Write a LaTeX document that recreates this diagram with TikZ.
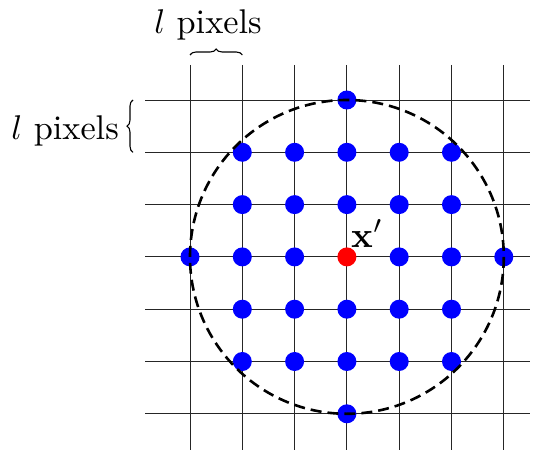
\documentclass[tikz,border=0pt]{standalone}
\usetikzlibrary{decorations.pathreplacing}
\newcommand{\bigtxt}[2]{\scalebox{#1}{\normalsize #2}}
\begin{document}
\begin{tikzpicture}[x=1pt,y=-1pt,
  gridline/.style={line width=1pt,black!85},
  dot/.style={circle,fill=blue,inner sep=0pt,minimum size=19pt},
  reddot/.style={circle,fill=red,inner sep=0pt,minimum size=19pt},
  lbl/.style={inner sep=0pt},
  bracestyle/.style={decorate,decoration={brace,amplitude=6pt},line width=1.1pt}]
\useasboundingbox (0,0) rectangle (541,452);
\def\sp{52.3}
\foreach \i in {0,...,6}{
  \draw[gridline] ({190+\sp*\i},65) -- ({190+\sp*\i},450);
  \draw[gridline] (145,{100+\sp*\i}) -- (530,{100+\sp*\i});
}
\foreach \i in {-3,...,3}{
  \foreach \j in {-3,...,3}{
    \pgfmathtruncatemacro{\dd}{\i*\i+\j*\j}
    \ifnum\dd<10
      \ifnum\dd>0
        \node[dot] (d\i\j) at ({346.9+\sp*\i},{256.9+\sp*\j}) {};
      \fi
    \fi
  }
}
\node[reddot] (c) at (346.9,256.9) {};
\draw[line width=2.6pt,dash pattern=on 11pt off 6pt] (c.center) circle (156.9);
\node[lbl,anchor=base west] (xl) at (351,247) {\bigtxt{3.6}{$\mathbf{x}'$}};
\coordinate (ta) at (190,55);
\coordinate (tb) at (242.3,55);
\draw[bracestyle] (ta) -- (tb);
\node[lbl,anchor=base] (tl) at (208,34) {\bigtxt{3.43}{$l$ pixels}};
\coordinate (la) at (133,152.3);
\coordinate (lb) at (133,100);
\draw[bracestyle] (la) -- (lb);
\node[lbl,anchor=base east] (ll) at (119,139) {\bigtxt{3.43}{$l$ pixels}};
\end{tikzpicture}
\end{document}
